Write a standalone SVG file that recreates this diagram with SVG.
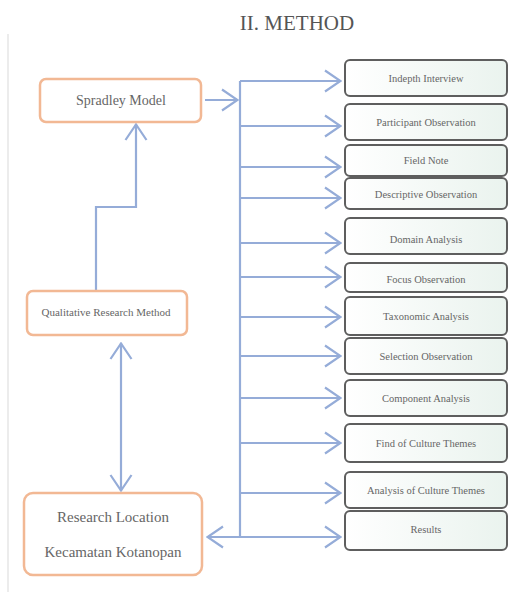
<svg xmlns="http://www.w3.org/2000/svg" width="517" height="592" viewBox="0 0 517 592">
<style>
.t{font-family:"Liberation Serif","Times New Roman",serif;fill:#666;text-anchor:middle}
.ob{fill:#fff;stroke:#f2b894;stroke-width:2.5}
.rb{fill:url(#g);stroke:#5e5e5e;stroke-width:2}
.c{fill:none;stroke:#95acd8;stroke-width:2.2}
.rt{font-size:10.5px}
</style>
<defs>
<linearGradient id="g" x1="0" y1="0" x2="1" y2="0">
<stop offset="0" stop-color="#ffffff"/>
<stop offset="1" stop-color="#eaf3ee"/>
</linearGradient>
<marker id="ah" viewBox="0 0 18 24" refX="17" refY="12" markerWidth="18" markerHeight="24" markerUnits="userSpaceOnUse" orient="auto-start-reverse">
<path d="M1,1.5 L16.5,12 L1,22.5" fill="none" stroke="#95acd8" stroke-width="2.2"/>
</marker>
</defs>
<rect width="517" height="592" fill="#fff"/>
<line x1="8" y1="34" x2="8" y2="592" stroke="#e6e6e6" stroke-width="1.5"/>
<text class="t" x="297" y="30" style="font-size:21px;fill:#555">II. METHOD</text>

<g id="connectors">
<path class="c" d="M240,81 V537"/>
<path class="c" d="M205,100 H238" marker-end="url(#ah)"/>
<path class="c" d="M96,290 V207 H136 V124" marker-end="url(#ah)"/>
<path class="c" d="M121,343 V491" marker-start="url(#ah)" marker-end="url(#ah)"/>
<path class="c" d="M207,537 H341" marker-start="url(#ah)" marker-end="url(#ah)"/>
<path class="c" d="M240,81 H341" marker-end="url(#ah)"/>
<path class="c" d="M240,126 H341" marker-end="url(#ah)"/>
<path class="c" d="M240,167 H341" marker-end="url(#ah)"/>
<path class="c" d="M240,198 H341" marker-end="url(#ah)"/>
<path class="c" d="M240,243 H341" marker-end="url(#ah)"/>
<path class="c" d="M240,277 H341" marker-end="url(#ah)"/>
<path class="c" d="M240,317 H341" marker-end="url(#ah)"/>
<path class="c" d="M240,356 H341" marker-end="url(#ah)"/>
<path class="c" d="M240,398 H341" marker-end="url(#ah)"/>
<path class="c" d="M240,443 H341" marker-end="url(#ah)"/>
<path class="c" d="M240,493 H341" marker-end="url(#ah)"/>
</g>

<g id="spradley"><rect class="ob" x="40" y="79" width="161" height="43" rx="6"/><text class="t" x="121" y="105" style="font-size:14px">Spradley Model</text></g>
<g id="qualitative"><rect class="ob" x="27" y="291" width="160" height="44" rx="6"/><text class="t" x="106" y="316" style="font-size:11px">Qualitative Research Method</text></g>
<g id="location"><rect class="ob" x="24" y="493" width="178" height="82" rx="9"/><text class="t" x="113" y="522" style="font-size:15px">Research Location</text><text class="t" x="113" y="557" style="font-size:15px">Kecamatan Kotanopan</text></g>

<g id="n1"><rect class="rb" x="345" y="60" width="162" height="36" rx="5"/><text class="t rt" x="426" y="82">Indepth Interview</text></g>
<g id="n2"><rect class="rb" x="345" y="104" width="162" height="36" rx="5"/><text class="t rt" x="426" y="126">Participant Observation</text></g>
<g id="n3"><rect class="rb" x="345" y="145" width="162" height="31" rx="5"/><text class="t rt" x="426" y="164">Field Note</text></g>
<g id="n4"><rect class="rb" x="345" y="178" width="162" height="31" rx="5"/><text class="t rt" x="426" y="198">Descriptive Observation</text></g>
<g id="n5"><rect class="rb" x="345" y="218" width="162" height="36" rx="5"/><text class="t rt" x="426" y="243">Domain Analysis</text></g>
<g id="n6"><rect class="rb" x="345" y="263" width="162" height="29" rx="5"/><text class="t rt" x="426" y="283">Focus Observation</text></g>
<g id="n7"><rect class="rb" x="345" y="297" width="162" height="38" rx="5"/><text class="t rt" x="426" y="320">Taxonomic Analysis</text></g>
<g id="n8"><rect class="rb" x="345" y="338" width="162" height="36" rx="5"/><text class="t rt" x="426" y="360">Selection Observation</text></g>
<g id="n9"><rect class="rb" x="345" y="380" width="162" height="36" rx="5"/><text class="t rt" x="426" y="402">Component Analysis</text></g>
<g id="n10"><rect class="rb" x="345" y="424" width="162" height="38" rx="5"/><text class="t rt" x="426" y="447">Find of Culture Themes</text></g>
<g id="n11"><rect class="rb" x="345" y="472" width="162" height="36" rx="5"/><text class="t rt" x="426" y="494">Analysis of Culture Themes</text></g>
<g id="n12"><rect class="rb" x="345" y="511" width="162" height="39" rx="5"/><text class="t rt" x="426" y="533">Results</text></g>
</svg>
